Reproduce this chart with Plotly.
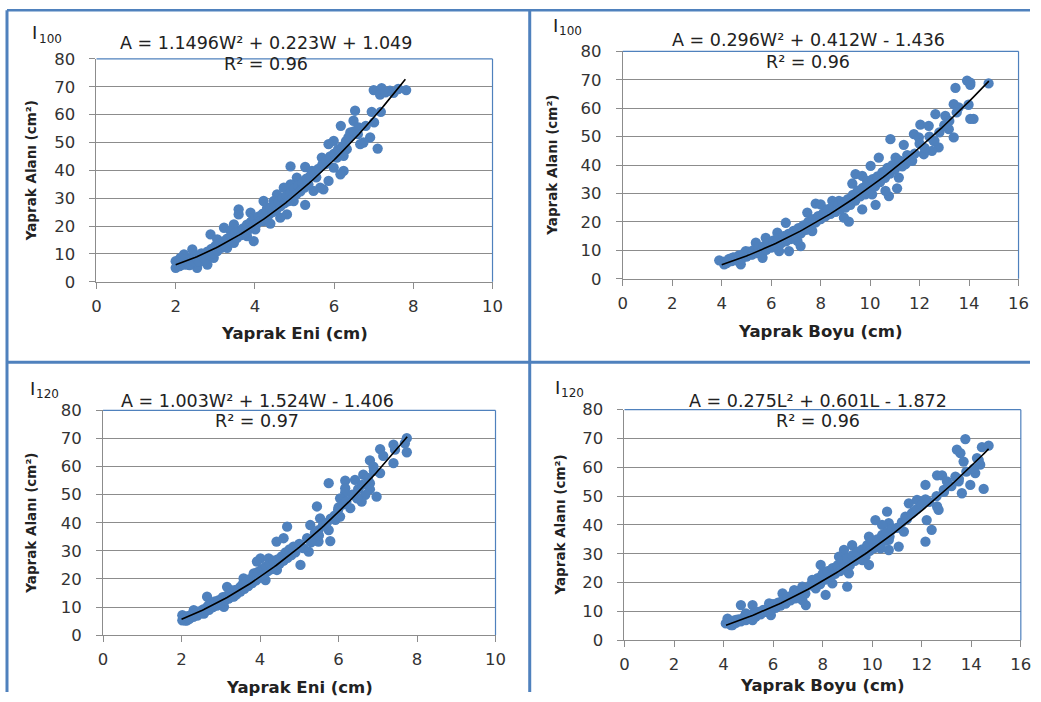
import numpy as np
import plotly.graph_objects as go

# ---------------- data ----------------
panel_labels = ["100", "100", "120", "120"]
x_titles = ["Yaprak Eni (cm)", "Yaprak Boyu (cm)", "Yaprak Eni (cm)", "Yaprak Boyu (cm)"]
y_title = "Yaprak Alanı (cm²)"
equations = ["A = 1.1496W² + 0.223W + 1.049",
             "A = 0.296W² + 0.412W - 1.436",
             "A = 1.003W² + 1.524W - 1.406",
             "A = 0.275L² + 0.601L - 1.872"]
r2_texts = ["R² = 0.96", "R² = 0.96", "R² = 0.97", "R² = 0.96"]
coefs = [(1.1496, 0.223, 1.049), (0.296, 0.412, -1.436),
         (1.003, 1.524, -1.406), (0.275, 0.601, -1.872)]
fit_ranges = [(2.0, 7.8), (4.0, 14.8), (2.0, 7.75), (4.1, 14.7)]
x_max = [10, 16, 10, 16]
x_dtick = [2, 2, 2, 2]
y_ticks = [0, 10, 20, 30, 40, 50, 60, 70, 80]

p1_points = [
    (7.0, 68.8), (7.2, 69.5), (7.41, 68.6), (7.62, 69.2), (7.82, 68.8), (7.16, 67.2), (7.3, 68.0), (7.5, 67.8),
    (6.53, 61.4), (6.95, 61.0), (7.18, 61.0), (7.01, 57.2), (6.17, 56.0), (6.49, 57.8), (6.62, 55.4),
    (7.1, 47.8), (6.91, 51.8), (6.74, 50.0), (6.66, 49.4), (6.41, 53.6), (6.36, 51.8), (5.99, 50.6),
    (5.86, 49.4), (6.32, 47.6), (6.24, 45.2), (6.07, 44.6), (5.69, 44.6), (5.78, 42.2), (6.24, 39.8),
    (6.16, 38.6), (5.99, 41.0), (5.86, 36.2), (5.65, 33.8), (5.48, 32.6), (5.73, 33.2), (4.9, 41.4),
    (5.27, 41.2), (5.44, 39.8), (5.06, 37.4), (4.9, 35.0), (4.73, 33.8), (5.27, 27.6), (4.98, 29.0),
    (4.56, 31.4), (4.48, 29.0), (4.22, 29.0), (4.31, 26.6), (4.81, 24.2), (4.64, 23.0), (4.22, 21.8),
    (4.39, 20.9), (3.59, 26.0), (3.59, 24.2), (3.89, 24.8), (3.97, 23.0), (3.97, 14.6), (3.8, 16.4),
    (3.8, 19.4), (4.01, 18.8), (3.47, 20.6), (3.22, 19.4), (3.39, 18.2), (2.88, 17.0), (3.05, 15.2),
    (3.47, 14.0), (3.3, 12.2), (3.0, 11.0), (2.96, 8.6), (2.63, 9.8), (2.42, 11.6), (2.21, 9.8),
    (2.54, 5.0), (2.29, 6.2), (2.0, 5.0), (2.0, 7.4), (2.12, 8.6), (2.8, 6.2), (2.71, 8.6),
    (2.05, 6.8), (2.1, 5.6), (2.15, 7.5), (2.2, 6.2), (2.25, 8.0), (2.3, 7.0), (2.35, 6.0), (2.4, 8.5),
    (2.45, 7.4), (2.5, 9.5), (2.55, 8.2), (2.6, 7.2), (2.65, 10.2), (2.7, 9.0), (2.75, 8.0), (2.8, 10.8),
    (2.85, 9.6), (2.9, 11.8), (2.95, 10.2), (3.0, 12.8), (3.05, 11.0), (3.1, 13.5), (3.15, 12.2),
    (3.2, 14.5), (3.25, 13.0), (3.3, 15.5), (3.35, 14.0), (3.4, 16.2), (3.45, 15.0), (3.5, 17.5),
    (3.55, 15.8), (3.6, 18.0), (3.65, 16.8), (3.7, 19.2), (3.75, 17.5), (3.8, 20.5), (3.85, 18.8),
    (3.9, 21.5), (3.95, 20.0), (4.0, 22.5), (4.05, 20.8), (4.1, 23.5), (4.15, 22.0), (4.2, 24.5),
    (4.25, 23.0), (4.3, 25.5), (4.35, 24.0), (4.4, 26.5), (4.45, 25.0), (4.5, 27.5), (4.55, 26.0),
    (4.6, 28.8), (4.65, 27.2), (4.7, 30.0), (4.75, 28.2), (4.8, 31.0), (4.85, 29.0), (4.9, 32.0),
    (4.95, 30.2), (5.0, 33.5), (5.05, 31.5), (5.1, 34.5), (5.15, 32.5), (5.2, 35.5), (5.25, 33.8),
    (5.3, 37.0), (5.35, 35.0), (5.4, 38.0), (5.5, 39.5), (5.55, 37.5), (5.6, 40.5), (5.7, 42.0),
    (5.8, 43.5), (5.9, 45.0), (6.0, 46.0), (6.1, 47.5), (6.2, 48.5), (6.3, 50.5), (6.4, 52.0),
    (6.5, 54.0), (6.6, 53.0), (6.8, 56.0),
]

p2_points = [
    (13.92, 69.7), (14.05, 68.2), (14.79, 68.7), (14.05, 69.0), (13.45, 67.1), (13.38, 61.4), (13.98, 61.2),
    (14.18, 56.2), (14.05, 56.2), (13.58, 60.3), (13.38, 49.7), (13.18, 52.6), (13.04, 57.3), (12.64, 57.9),
    (12.03, 54.2), (12.37, 53.8), (12.57, 48.5), (12.77, 46.2), (12.5, 45.0), (12.17, 43.8), (11.77, 50.9),
    (11.97, 49.7), (11.7, 41.5), (11.43, 40.3), (11.36, 47.1), (10.82, 49.1), (11.03, 42.6), (11.16, 35.6),
    (11.09, 31.8), (10.76, 29.1), (10.62, 30.9), (10.35, 42.6), (10.02, 39.7), (10.22, 26.0), (9.68, 24.4),
    (9.41, 36.8), (9.68, 36.2), (9.88, 34.4), (9.28, 33.5), (9.81, 29.7), (10.08, 29.7), (9.14, 20.1),
    (8.94, 21.5), (8.74, 27.4), (8.47, 27.4), (7.8, 26.4), (8.0, 26.2), (7.46, 23.3), (7.66, 16.8),
    (7.39, 18.0), (7.19, 11.5), (7.06, 13.3), (6.59, 19.7), (6.72, 15.0), (6.72, 9.75), (6.32, 9.75),
    (6.25, 16.2), (5.78, 14.4), (5.78, 10.9), (5.38, 12.7), (5.24, 8.6), (5.65, 7.4), (4.97, 9.75),
    (4.71, 8.0), (4.3, 6.2), (3.9, 6.5), (4.1, 5.1), (4.77, 5.1), (4.44, 7.4),
    (4.1, 6.0), (4.2, 5.5), (4.3, 7.0), (4.4, 6.2), (4.5, 7.5), (4.6, 6.5), (4.7, 8.2), (4.8, 7.0),
    (4.9, 8.8), (5.0, 7.8), (5.1, 9.5), (5.2, 8.5), (5.3, 10.2), (5.4, 9.0), (5.5, 10.8), (5.6, 9.8),
    (5.7, 11.5), (5.8, 10.2), (5.9, 12.5), (6.0, 11.0), (6.1, 13.5), (6.2, 11.8), (6.3, 14.2), (6.4, 12.5),
    (6.5, 15.0), (6.6, 13.2), (6.7, 15.8), (6.8, 14.0), (6.9, 16.8), (7.0, 15.0), (7.1, 17.8), (7.2, 16.0),
    (7.3, 18.8), (7.4, 17.2), (7.5, 20.0), (7.6, 18.5), (7.7, 21.0), (7.8, 19.8), (7.9, 22.0), (8.0, 21.0),
    (8.1, 23.0), (8.2, 22.0), (8.3, 24.5), (8.4, 22.8), (8.5, 25.5), (8.6, 23.5), (8.7, 26.0), (8.8, 24.5),
    (8.9, 27.0), (9.0, 25.0), (9.1, 28.0), (9.2, 26.0), (9.3, 29.5), (9.4, 27.5), (9.5, 31.0), (9.6, 29.0),
    (9.7, 32.0), (9.8, 30.5), (9.9, 33.5), (10.0, 31.0), (10.1, 35.0), (10.2, 32.5), (10.3, 36.0),
    (10.4, 34.0), (10.5, 37.5), (10.6, 35.5), (10.7, 39.0), (10.8, 37.0), (10.9, 40.0), (11.0, 38.5),
    (11.2, 41.5), (11.3, 39.5), (11.5, 43.5), (11.8, 44.0), (12.0, 47.5), (12.2, 46.0), (12.4, 50.0),
    (12.6, 48.5), (12.8, 51.5), (13.0, 54.0), (13.2, 55.5), (13.5, 58.5),
]

p3_points = [
    (7.74, 70.1), (7.69, 68.3), (7.74, 65.1), (7.4, 67.8), (7.44, 66.0), (7.06, 66.2), (7.4, 61.2),
    (7.14, 63.8), (6.8, 62.2), (7.06, 57.7), (6.89, 60.0), (6.97, 49.3), (6.8, 54.1), (6.8, 51.9),
    (6.63, 57.1), (6.68, 49.9), (6.59, 47.5), (6.47, 48.7), (6.42, 55.3), (6.17, 55.0), (6.17, 52.3),
    (6.17, 50.8), (6.3, 45.2), (6.04, 48.7), (5.75, 54.1), (5.99, 44.6), (6.04, 42.2), (5.92, 41.0),
    (5.75, 37.4), (5.79, 33.5), (5.45, 45.8), (5.53, 41.6), (5.28, 39.2), (5.49, 37.4), (5.36, 34.5),
    (5.49, 33.3), (5.24, 29.7), (4.69, 38.6), (4.6, 34.5), (4.42, 33.3), (5.03, 25.0), (4.77, 29.1),
    (4.01, 27.3), (3.92, 26.2), (4.22, 27.3), (4.14, 19.6), (4.43, 23.2), (4.6, 26.7), (3.84, 22.0),
    (3.67, 18.4), (3.58, 20.2), (3.5, 17.2), (3.33, 13.7), (3.16, 17.2), (3.25, 16.0), (2.91, 11.3),
    (2.65, 13.7), (2.69, 10.7), (2.57, 7.7), (2.31, 8.9), (2.06, 6.5), (2.02, 5.3), (2.14, 5.3),
    (2.02, 7.1), (3.08, 10.1),
    (2.05, 6.0), (2.1, 5.2), (2.15, 6.8), (2.2, 5.8), (2.25, 7.2), (2.3, 6.5), (2.35, 7.8), (2.4, 7.0),
    (2.45, 8.5), (2.5, 7.8), (2.55, 9.2), (2.6, 8.5), (2.65, 10.0), (2.7, 9.0), (2.75, 11.0), (2.8, 10.0),
    (2.85, 12.0), (2.9, 10.5), (2.95, 12.5), (3.0, 11.5), (3.05, 13.5), (3.1, 12.2), (3.15, 14.0),
    (3.2, 13.0), (3.25, 15.0), (3.3, 13.8), (3.35, 16.0), (3.4, 14.5), (3.45, 16.5), (3.5, 15.5),
    (3.55, 18.0), (3.6, 16.5), (3.65, 19.0), (3.7, 17.5), (3.75, 20.0), (3.8, 18.5), (3.85, 21.5),
    (3.9, 19.5), (3.95, 22.5), (4.0, 20.5), (4.05, 23.5), (4.1, 21.5), (4.15, 24.5), (4.2, 22.8),
    (4.25, 25.5), (4.3, 23.5), (4.35, 26.5), (4.4, 24.5), (4.45, 27.0), (4.5, 25.5), (4.55, 28.0),
    (4.6, 26.5), (4.65, 29.5), (4.7, 27.5), (4.75, 30.5), (4.8, 28.5), (4.85, 31.5), (4.9, 29.5),
    (5.0, 32.5), (5.1, 31.0), (5.2, 34.5), (5.3, 33.0), (5.4, 36.5), (5.5, 35.5), (5.6, 39.0),
    (5.7, 40.0), (5.8, 41.5), (5.9, 42.5), (6.0, 45.5), (6.1, 46.5), (6.2, 47.5), (6.35, 50.0),
    (6.5, 52.0), (6.6, 53.5), (6.75, 56.0), (6.9, 58.5),
]

p4_points = [
    (13.76, 69.8), (13.42, 66.1), (13.56, 64.9), (14.43, 67.0), (14.7, 67.5), (13.69, 62.0), (14.36, 60.9),
    (14.23, 63.2), (14.16, 58.0), (13.96, 53.9), (14.5, 52.5), (13.62, 51.0), (13.49, 55.1), (13.36, 56.8),
    (12.62, 57.2), (12.82, 57.2), (13.02, 55.1), (12.89, 52.2), (12.15, 53.9), (12.62, 46.4), (12.68, 45.2),
    (12.2, 41.7), (12.4, 38.3), (12.15, 34.2), (11.48, 47.5), (11.81, 48.7), (12.15, 48.9), (11.68, 44.6),
    (11.34, 42.9), (11.28, 37.7), (11.07, 32.5), (10.6, 44.6), (10.13, 41.7), (10.67, 40.6), (10.4, 40.0),
    (10.67, 34.8), (10.67, 31.3), (10.34, 31.9), (9.87, 35.9), (9.93, 33.6), (9.73, 29.0), (9.87, 26.1),
    (9.19, 33.0), (9.4, 30.7), (9.6, 27.8), (8.86, 31.3), (8.66, 29.0), (9.06, 23.2), (8.99, 18.6),
    (8.52, 24.3), (8.39, 19.7), (7.92, 26.1), (8.12, 22.0), (8.12, 15.7), (7.72, 18.0), (7.58, 20.9),
    (7.18, 18.6), (7.32, 12.2), (7.18, 13.9), (6.85, 17.4), (6.38, 16.2), (6.51, 12.8), (6.11, 11.6),
    (5.84, 12.8), (5.91, 8.7), (5.17, 12.2), (4.7, 12.2), (5.17, 7.0), (4.9, 9.3), (4.5, 7.0),
    (4.16, 7.5), (4.09, 5.8), (4.36, 5.2),
    (4.2, 6.0), (4.3, 5.2), (4.4, 6.8), (4.5, 6.0), (4.6, 7.2), (4.7, 6.5), (4.8, 7.8), (4.9, 7.0),
    (5.0, 8.5), (5.1, 7.5), (5.2, 9.2), (5.3, 8.2), (5.4, 9.8), (5.5, 9.0), (5.6, 10.5), (5.7, 9.8),
    (5.8, 11.2), (5.9, 10.5), (6.0, 12.5), (6.1, 11.2), (6.2, 13.0), (6.3, 12.0), (6.4, 14.0), (6.5, 12.8),
    (6.6, 15.0), (6.7, 13.8), (6.8, 16.0), (6.9, 14.5), (7.0, 17.0), (7.1, 15.5), (7.2, 17.8), (7.3, 16.2),
    (7.5, 19.0), (7.7, 20.0), (7.8, 21.5), (7.9, 19.5), (8.0, 23.0), (8.1, 21.0), (8.2, 24.0), (8.3, 22.0),
    (8.4, 25.0), (8.5, 23.0), (8.6, 26.0), (8.7, 24.0), (8.8, 27.5), (8.9, 25.5), (9.0, 28.5), (9.1, 26.0),
    (9.2, 29.5), (9.3, 27.5), (9.4, 30.5), (9.5, 28.5), (9.6, 31.5), (9.7, 30.0), (9.8, 33.0), (9.9, 31.0),
    (10.0, 34.5), (10.1, 32.0), (10.2, 35.0), (10.3, 33.0), (10.4, 36.5), (10.5, 34.5), (10.6, 37.5),
    (10.7, 36.0), (10.8, 38.5), (11.0, 39.0), (11.2, 41.0), (11.4, 42.0), (11.6, 44.0), (11.8, 45.5),
    (12.0, 47.0), (12.3, 48.0), (12.6, 50.0), (12.9, 51.5), (13.2, 53.5), (13.5, 56.0), (13.8, 58.5),
    (14.1, 59.5), (14.3, 62.5),
]
all_points = [p1_points, p2_points, p3_points, p4_points]

# ---------------- style / layout ----------------
FONT = "DejaVu Sans"
BLUE = "#4F81BD"
GRID = "#8C8C8C"
TXT = "#222222"

# observed placement of the page inside the photograph (image px)
OX, OY, SW, SH = 4.0, 8.5, 1027.5, 681.5


def px_x(v):
    return min(max((v - OX) / SW, 0.0), 1.0)


def px_y(v):
    return min(max(1 - (v - OY) / SH, 0.0), 1.0)


# target positions in the reference picture (image px): plot areas (left, right, top, bottom)
boxes = [(95.7, 492.7, 58.3, 280.7), (623.3, 1020.0, 50.7, 277.7),
         (102.3, 495.7, 409.0, 633.3), (625.0, 1022.3, 408.3, 638.3)]
eq_pos = [(266, 42.5, 63), (809, 39.5, 61), (257, 399.5, 419.5), (818.5, 399.5, 419.5)]
i_pos = [(29.5, 32), (551, 24.5), (27.5, 387.5), (553.5, 386.5)]
sub_pos = [(36, 38.5), (557, 30.5), (33.5, 392.5), (559, 392)]
ytitle_x = [30, 552, 30, 560]
xtitle_y = [332, 330, 686, 684]

fig = go.Figure()
annotations = []
shapes = []
layout_axes = {}


def add_text(text, x, y, size, xanchor="center", angle=0, weight="normal"):
    annotations.append(dict(text=text, x=px_x(x), y=px_y(y), xref="paper", yref="paper",
                            showarrow=False, xanchor=xanchor, yanchor="middle", textangle=angle,
                            font=dict(family=FONT, size=size, color=TXT, weight=weight)))


for i in range(4):
    k = "" if i == 0 else str(i + 1)
    xa, ya = "x" + k, "y" + k
    pts = all_points[i]
    xs = [p[0] for p in pts]
    ys = [p[1] for p in pts]
    fig.add_trace(go.Scatter(x=xs, y=ys, mode="markers", xaxis=xa, yaxis=ya,
                             marker=dict(size=10.3, color=BLUE, line=dict(width=0)),
                             showlegend=False, hoverinfo="skip"))
    a, b, c = coefs[i]
    fx = np.linspace(fit_ranges[i][0], fit_ranges[i][1], 120)
    fy = a * fx ** 2 + b * fx + c
    fig.add_trace(go.Scatter(x=fx, y=fy, mode="lines", xaxis=xa, yaxis=ya,
                             line=dict(color="black", width=1.6),
                             showlegend=False, hoverinfo="skip"))
    l, r, t, bt = boxes[i]
    layout_axes["xaxis" + k] = dict(
        domain=[px_x(l), px_x(r)], anchor=ya, range=[0, x_max[i]], dtick=x_dtick[i],
        tick0=0, showgrid=False, zeroline=False, showline=True, linecolor=GRID, linewidth=1,
        ticks="outside", ticklen=6, tickcolor=GRID, tickwidth=1, ticklabelstandoff=3,
        tickfont=dict(family=FONT, size=16.5, color="#333333"), fixedrange=True)
    layout_axes["yaxis" + k] = dict(
        domain=[px_y(bt), px_y(t)], anchor=xa, range=[0, 80], tickvals=y_ticks,
        showgrid=True, gridcolor=GRID, gridwidth=1, zeroline=False, showline=True,
        linecolor=GRID, linewidth=1, ticks="outside", ticklen=6, tickcolor=GRID, tickwidth=1,
        ticklabelstandoff=11,
        tickfont=dict(family=FONT, size=16.5, color="#333333"), fixedrange=True)
    # plot-area border (top, right) in blue
    shapes.append(dict(type="line", xref="paper", yref="paper", x0=px_x(l), x1=px_x(r),
                       y0=px_y(t), y1=px_y(t), line=dict(color=BLUE, width=1.2)))
    shapes.append(dict(type="line", xref="paper", yref="paper", x0=px_x(r), x1=px_x(r),
                       y0=px_y(t), y1=px_y(bt), line=dict(color=BLUE, width=1.2)))
    ex, ey, ry = eq_pos[i]
    add_text(equations[i], ex, ey, 17.5)
    add_text(r2_texts[i], ex, ry, 17.5)
    add_text("I", i_pos[i][0], i_pos[i][1], 18, xanchor="left")
    add_text(panel_labels[i], sub_pos[i][0], sub_pos[i][1], 12, xanchor="left")
    add_text(x_titles[i], (l + r) / 2, xtitle_y[i], 16.5, weight="bold")
    add_text(y_title, ytitle_x[i], (t + bt) / 2, 13.5, angle=-90, weight="bold")

# outer frame and dividers (image px; clipped to the page)
frame = [
    (6, 9.8, 1041, 9.8, 2.5),     # top
    (6, 9.8, 6, 702, 3),          # left
    (530, 9.8, 530, 702, 3),      # vertical divider
    (6, 361, 1041, 361, 3),       # horizontal divider
]
for x0, y0, x1, y1, w in frame:
    shapes.append(dict(type="line", xref="paper", yref="paper", x0=px_x(x0), x1=px_x(x1),
                       y0=px_y(y0), y1=px_y(y1), line=dict(color=BLUE, width=w)))

fig.update_layout(autosize=True, margin=dict(l=0, r=0, t=0, b=0, pad=0),
                  paper_bgcolor="white", plot_bgcolor="white",
                  annotations=annotations, shapes=shapes, **layout_axes)

post = """
var gd = document.getElementById('{plot_id}');
document.documentElement.style.cssText = 'margin:0;padding:0;width:100%;height:100%;overflow:hidden;';
document.body.style.cssText = 'margin:0;padding:0;width:100%;height:100%;overflow:hidden;';
gd.parentElement.style.cssText = 'margin:0;padding:0;width:100%;height:100%;';
gd.style.width = '100%';
gd.style.height = '100%';
Plotly.Plots.resize(gd);
"""

fig.write_html("out.html", config={"displayModeBar": False, "responsive": True},
               default_width="100%", default_height="100%", post_script=post)
